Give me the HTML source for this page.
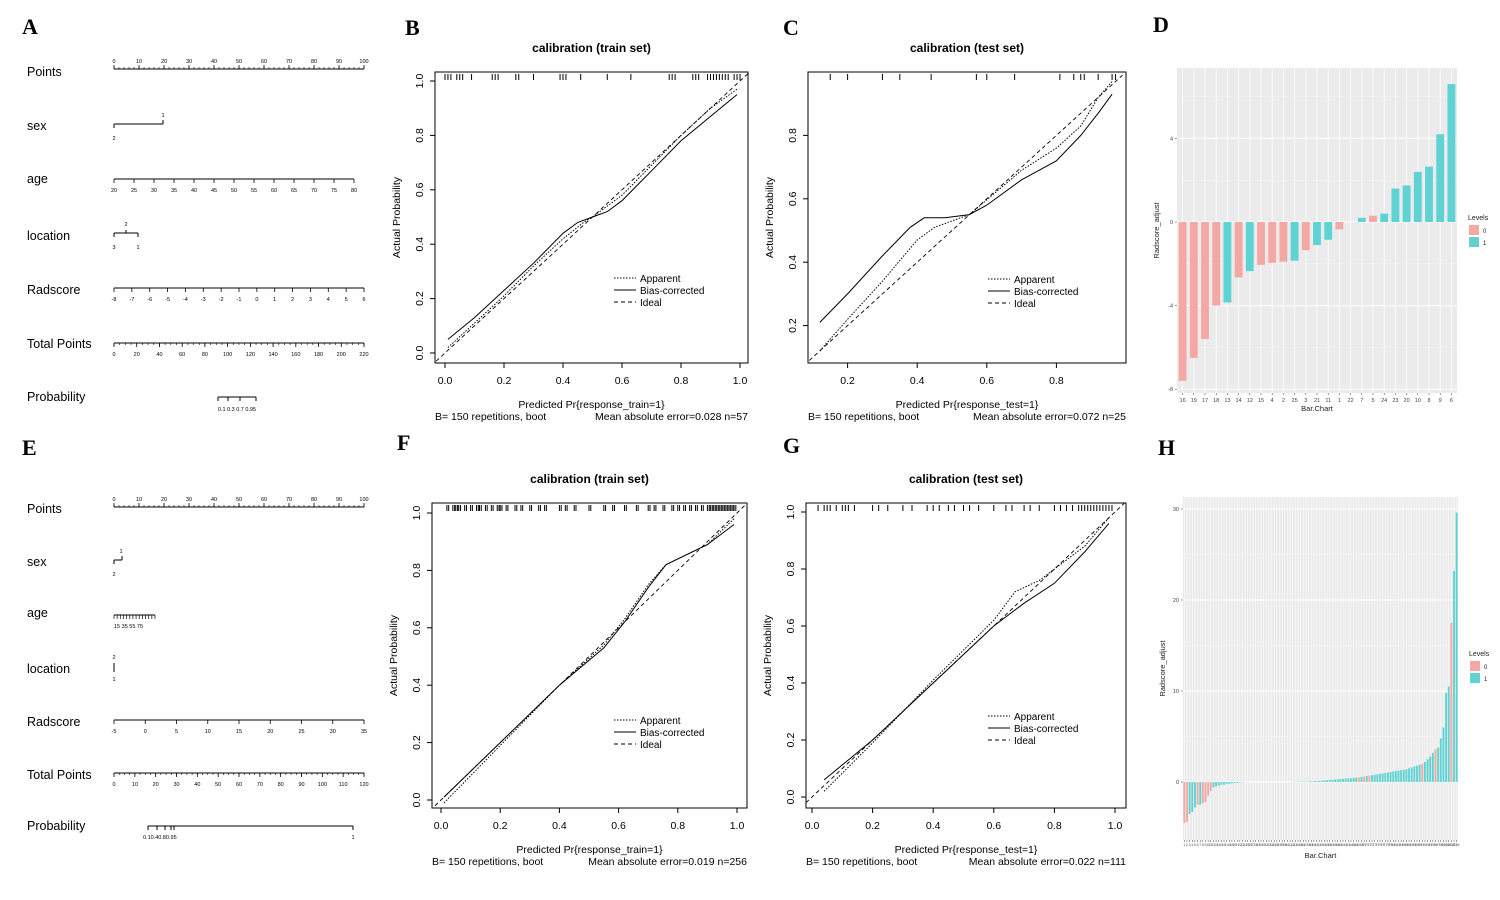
<!DOCTYPE html>
<html><head><meta charset="utf-8"><style>
body{margin:0;background:#fff}
svg{display:block;font-family:"Liberation Sans",Arial,sans-serif}
</style></head><body>
<svg id="fig" width="1500" height="900" viewBox="0 0 1500 900" xmlns="http://www.w3.org/2000/svg">
<rect width="1500" height="900" fill="#fff"/>
<g font-family="Liberation Serif,serif" font-weight="bold" font-size="22" fill="#000">
<text x="22" y="34">A</text>
<text x="405" y="35">B</text>
<text x="783" y="35">C</text>
<text x="1153" y="32">D</text>
<text x="22" y="455">E</text>
<text x="397" y="450">F</text>
<text x="783" y="453">G</text>
<text x="1158" y="455">H</text>
</g>
</svg>
<script>
// ---- data: bar chart D ----
const dCats=["16","19","17","18","13","14","12","15","4","2","25","3","21","11","1","22","7","5","24","23","20","10","8","9","6"];
const dVals=[-7.6,-6.5,-5.6,-4.0,-3.85,-2.65,-2.35,-2.05,-1.95,-1.9,-1.85,-1.35,-1.1,-0.85,-0.35,0,0.2,0.3,0.4,1.6,1.75,2.4,2.65,4.2,6.6];
const dLevels=[0,0,0,0,1,0,1,0,0,0,1,0,1,1,0,0,1,0,1,1,1,1,1,1,1];
// ---- data: bar chart H ----
const hVals=[-4.5,-4.4,-3.5,-3.3,-2.8,-2.5,-2.5,-2.3,-2.2,-1.5,-1.0,-0.6,-0.5,-0.4,-0.3,-0.3,-0.2,-0.2,-0.15,-0.1,-0.1,-0.05,-0.05,
0,0,0,0,0,0,0,0,0,0,0,0,0,0,0,0,0,0,0.02,0.02,0.03,0.03,
0.05,0.05,0.05,0.08,0.1,0.1,0.12,0.15,0.18,0.2,0.22,0.25,0.28,0.3,0.32,0.35,0.38,0.4,0.42,0.45,0.48,0.5,0.55,0.6,0.65,0.7,0.75,0.8,0.85,0.9,0.95,1.0,1.05,1.1,1.15,1.2,1.25,1.3,1.35,1.4,1.5,1.6,1.7,1.8,1.9,2.0,2.2,2.5,2.8,3.2,3.6,3.8,4.8,6.0,9.8,10.5,17.5,23.2,29.6];
const hPink=[0,1,5,7,8,9,10,66,68,70,90,95,101];
const hLevels=hVals.map((v,i)=>hPink.includes(i)?0:1);
// ---- data: calibration curves ----
const bApp=[[0.01,0.02],[0.1,0.11],[0.2,0.21],[0.3,0.32],[0.4,0.42],[0.47,0.48],[0.5,0.5],[0.6,0.58],[0.7,0.69],[0.8,0.8],[0.9,0.9],[0.99,0.97]];
const bBias=[[0.01,0.05],[0.1,0.13],[0.2,0.23],[0.3,0.33],[0.4,0.44],[0.45,0.48],[0.5,0.5],[0.55,0.52],[0.6,0.56],[0.7,0.67],[0.8,0.78],[0.9,0.87],[0.99,0.95]];
const bRug=[0.0,0.01,0.02,0.04,0.05,0.06,0.09,0.16,0.17,0.18,0.24,0.25,0.3,0.39,0.4,0.41,0.46,0.55,0.63,0.76,0.77,0.78,0.84,0.85,0.86,0.89,0.9,0.91,0.92,0.93,0.94,0.95,0.96,0.98,0.99,1.0];
const cApp=[[0.12,0.12],[0.2,0.22],[0.3,0.34],[0.4,0.47],[0.45,0.51],[0.55,0.55],[0.7,0.69],[0.8,0.76],[0.87,0.83],[0.92,0.92],[0.96,0.97]];
const cBias=[[0.12,0.21],[0.2,0.3],[0.3,0.42],[0.38,0.51],[0.42,0.54],[0.48,0.54],[0.55,0.55],[0.6,0.58],[0.7,0.66],[0.8,0.72],[0.87,0.8],[0.92,0.87],[0.96,0.93]];
const cRug=[0.15,0.2,0.3,0.35,0.44,0.57,0.6,0.68,0.81,0.85,0.87,0.88,0.92,0.96,0.97];
const fApp=[[0.01,-0.01],[0.2,0.19],[0.4,0.4],[0.55,0.54],[0.62,0.63],[0.7,0.75],[0.76,0.82],[0.8,0.84],[0.9,0.89],[0.99,0.98]];
const fBias=[[0.01,0.01],[0.2,0.2],[0.4,0.4],[0.55,0.53],[0.62,0.62],[0.7,0.74],[0.76,0.82],[0.8,0.84],[0.9,0.89],[0.99,0.96]];
const fRugBase=[0.02,0.04,0.05,0.06,0.08,0.1,0.12,0.13,0.15,0.17,0.19,0.2,0.22,0.25,0.27,0.3,0.33,0.35,0.4,0.42,0.45,0.5,0.55,0.58,0.62,0.66,0.7,0.72,0.75,0.78,0.8,0.82,0.84,0.86,0.88,0.9,0.91,0.92,0.93,0.94,0.95,0.96,0.97,0.98,0.99];
const fRug=fRugBase.concat(fRugBase.map(v=>v+0.006));
const gApp=[[0.04,0.02],[0.2,0.19],[0.4,0.41],[0.6,0.62],[0.67,0.72],[0.75,0.76],[0.9,0.88],[0.98,0.98]];
const gBias=[[0.04,0.06],[0.2,0.2],[0.4,0.4],[0.6,0.6],[0.7,0.68],[0.8,0.75],[0.9,0.86],[0.98,0.96]];
const gRug=[0.02,0.04,0.05,0.06,0.08,0.1,0.11,0.12,0.14,0.2,0.22,0.25,0.3,0.33,0.38,0.4,0.42,0.45,0.47,0.5,0.52,0.55,0.6,0.64,0.66,0.7,0.72,0.75,0.8,0.82,0.84,0.86,0.88,0.89,0.9,0.91,0.92,0.93,0.94,0.95,0.96,0.97,0.98,0.99];

const NS="http://www.w3.org/2000/svg";
const svg=document.getElementById('fig');
function el(tag,attrs,parent,txt){const e=document.createElementNS(NS,tag);for(const k in attrs)e.setAttribute(k,attrs[k]);if(txt!==undefined)e.textContent=txt;(parent||svg).appendChild(e);return e;}
function grp(name){const g=el('g',{});return g;}

function calib(o){
  const g=grp(o.name);
  const sx=v=>o.x0+(v-0)*(o.x1-o.x0), sy=v=>o.y0-(v)*(o.y0-o.y1);
  el('rect',{x:o.fx0,y:o.fy0,width:o.fx1-o.fx0,height:o.fy1-o.fy0,fill:'none',stroke:'#000','stroke-width':1},g);
  const t=el('text',{x:(o.fx0+o.fx1)/2,y:o.fy0-20,'text-anchor':'middle','font-size':12,'font-weight':'bold'},g,o.title);
  
  o.xt.forEach(v=>{el('line',{x1:sx(v),x2:sx(v),y1:o.fy1,y2:o.fy1+5,stroke:'#000'},g);el('text',{x:sx(v),y:o.fy1+21,'text-anchor':'middle','font-size':10.5},g,v.toFixed(1));});
  o.yt.forEach(v=>{el('line',{x1:o.fx0,x2:o.fx0-5,y1:sy(v),y2:sy(v),stroke:'#000'},g);el('text',{x:o.fx0-12,y:sy(v),'text-anchor':'middle','font-size':10.5,transform:`rotate(-90 ${o.fx0-12} ${sy(v)})`},g,v.toFixed(1));});
  el('text',{x:o.fx0-35,y:(o.fy0+o.fy1)/2,'text-anchor':'middle','font-size':10.5,transform:`rotate(-90 ${o.fx0-35} ${(o.fy0+o.fy1)/2})`},g,'Actual Probability');
  el('text',{x:(o.fx0+o.fx1)/2,y:o.fy1+45,'text-anchor':'middle','font-size':10.5},g,o.xlab);
  el('text',{x:o.fx0,y:o.fy1+57,'font-size':10.5},g,'B= 150 repetitions, boot');
  el('text',{x:o.fx1,y:o.fy1+57,'text-anchor':'end','font-size':10.5},g,o.mae);
  el('line',{x1:sx(o.id0),y1:sy(o.id0),x2:sx(o.id1),y2:sy(o.id1),stroke:'#000','stroke-dasharray':'4,3','stroke-width':0.9},g);
  const pts=a=>a.map(p=>sx(p[0]).toFixed(1)+','+sy(p[1]).toFixed(1)).join(' ');
  const pa=el('polyline',{points:pts(o.app),fill:'none',stroke:'#000','stroke-dasharray':'1.5,1.5','stroke-width':1},g);
  
  const pb=el('polyline',{points:pts(o.bias),fill:'none',stroke:'#000','stroke-width':1},g);
  
  o.rug.forEach(v=>{el('line',{x1:sx(v),x2:sx(v),y1:o.fy0+2,y2:o.fy0+8,stroke:'#000','stroke-width':1},g);});
  const L=grp('legend');g.appendChild(L);
  const lab=['Apparent','Bias-corrected','Ideal'],da=['1.5,1.5','none','4,3'];
  lab.forEach((s,i)=>{const y=o.ly+i*12;el('line',{x1:o.lx,x2:o.lx+22,y1:y-4,y2:y-4,stroke:'#000','stroke-dasharray':da[i]},L);
    const tt=el('text',{x:o.lx+26,y:y,'font-size':10},L,s);});
}
calib({name:'calibration-train-b',fx0:435,fx1:748,fy0:72,fy1:363,x0:445,x1:740,y0:353,y1:81,xt:[0,0.2,0.4,0.6,0.8,1],yt:[0,0.2,0.4,0.6,0.8,1],
 title:'calibration (train set)',xlab:'Predicted Pr{response_train=1}',mae:'Mean absolute error=0.028 n=57',app:bApp,bias:bBias,rug:bRug,id0:-0.03,id1:1.03,lx:614,ly:282});
calib({name:'calibration-test-c',fx0:808,fx1:1126,fy0:72,fy1:363,x0:778,x1:1126,y0:389,y1:72,xt:[0.2,0.4,0.6,0.8],yt:[0.2,0.4,0.6,0.8],
 title:'calibration (test set)',xlab:'Predicted Pr{response_test=1}',mae:'Mean absolute error=0.072 n=25',app:cApp,bias:cBias,rug:cRug,id0:0.09,id1:0.99,lx:988,ly:283});
calib({name:'calibration-train-f',fx0:432,fx1:747,fy0:503,fy1:808,x0:441,x1:737,y0:800,y1:513,xt:[0,0.2,0.4,0.6,0.8,1],yt:[0,0.2,0.4,0.6,0.8,1],
 title:'calibration (train set)',xlab:'Predicted Pr{response_train=1}',mae:'Mean absolute error=0.019 n=256',app:fApp,bias:fBias,rug:fRug,id0:-0.02,id1:1.03,lx:614,ly:724});
calib({name:'calibration-test-g',fx0:806,fx1:1126,fy0:503,fy1:808,x0:812,x1:1115,y0:797,y1:512,xt:[0,0.2,0.4,0.6,0.8,1],yt:[0,0.2,0.4,0.6,0.8,1],
 title:'calibration (test set)',xlab:'Predicted Pr{response_test=1}',mae:'Mean absolute error=0.022 n=111',app:gApp,bias:gBias,rug:gRug,id0:-0.02,id1:1.03,lx:988,ly:720});

function bars(o){
  const g=grp(o.name);
  el('rect',{x:o.px0,y:o.py0,width:o.px1-o.px0,height:o.py1-o.py0,fill:'#ebebeb'},g);
  const sy=v=>o.zero-v*o.k;
  o.grid.forEach(v=>el('line',{x1:o.px0,x2:o.px1,y1:sy(v),y2:sy(v),stroke:'#fff','stroke-width':1},g));
  o.minor.forEach(v=>el('line',{x1:o.px0,x2:o.px1,y1:sy(v),y2:sy(v),stroke:'#f5f5f5','stroke-width':0.5},g));
  const n=o.vals.length, step=(o.px1-o.px0)/n;
  for(let i=0;i<n;i++){const cx=o.px0+step*(i+0.5);el('line',{x1:cx,x2:cx,y1:o.py0,y2:o.py1,stroke:'#fff','stroke-width':o.gw},g);}
  for(let i=0;i<n;i++){const v=o.vals[i],cx=o.px0+step*(i+0.5),w=step*0.7;
    const r=el('rect',{x:cx-w/2,y:Math.min(sy(v),sy(0)),width:w,height:Math.max(Math.abs(sy(v)-sy(0)),0.01),fill:o.lev[i]?'#5fd3d3':'#f4a8a3'},g);
    
    el('line',{x1:cx,x2:cx,y1:o.py1,y2:o.py1+2,stroke:'#333','stroke-width':0.5},g);
    if(o.cats) el('text',{x:cx,y:o.py1+9,'text-anchor':'middle','font-size':o.cfs,fill:'#444'},g,o.cats[i]);
    else el('text',{x:cx,y:o.py1+6,'text-anchor':'middle','font-size':3.5,fill:'#555'},g,String(i+1));
  }
  o.yt.forEach(v=>{el('line',{x1:o.px0-2,x2:o.px0,y1:sy(v),y2:sy(v),stroke:'#333','stroke-width':0.5},g);el('text',{x:o.px0-4,y:sy(v)+2,'text-anchor':'end','font-size':5.5,fill:'#444'},g,String(v));});
  el('text',{x:o.px0-18,y:(o.py0+o.py1)/2,'text-anchor':'middle','font-size':7.5,fill:'#222',transform:`rotate(-90 ${o.px0-18} ${(o.py0+o.py1)/2})`},g,'Radscore_adjust');
  el('text',{x:(o.px0+o.px1)/2,y:o.py1+18,'text-anchor':'middle','font-size':7.5,fill:'#222'},g,'Bar.Chart');
  const L=grp('legend');g.appendChild(L);
  el('text',{x:o.px1+11,y:o.ly,'font-size':7,fill:'#222'},L,'Levels');
  ['#f4a8a3','#5fd3d3'].forEach((c,i)=>{el('rect',{x:o.px1+12,y:o.ly+5+i*12,width:10,height:10,fill:c},L);
    const t=el('text',{x:o.px1+26,y:o.ly+13+i*12,'font-size':6,fill:'#222'},L,String(i));});
}
bars({name:'bar-chart-d',px0:1177,px1:1457,py0:68,py1:393,zero:222,k:20.9,vals:dVals,lev:dLevels,cats:dCats,cfs:5.5,gw:0.8,
 grid:[-8,-4,0,4],minor:[-6,-2,2,6],yt:[-8,-4,0,4],ly:220});
bars({name:'bar-chart-h',px0:1183,px1:1458,py0:497,py1:840,zero:782,k:9.1,vals:hVals,lev:hLevels,cats:null,gw:0.5,
 grid:[0,10,20,30],minor:[5,15,25],yt:[0,10,20,30],ly:656});

function axis(g,y,x0,x1,vals,labels,opt){
  opt=opt||{};
  el('line',{x1:x0,x2:x1,y1:y,y2:y,stroke:'#000','stroke-width':1},g);
  const sx=v=>x0+(v-vals[0])/(vals[vals.length-1]-vals[0])*(x1-x0);
  if(opt.minor){for(let v=vals[0];v<=vals[vals.length-1]+1e-9;v+=opt.minor){el('line',{x1:sx(v),x2:sx(v),y1:y,y2:y+(opt.up?-2:2),stroke:'#000','stroke-width':0.6},g);}}
  vals.forEach((v,i)=>{el('line',{x1:sx(v),x2:sx(v),y1:y,y2:y+(opt.up?-4:4),stroke:'#000','stroke-width':0.8},g);
    if(labels[i]!=='') el('text',{x:sx(v),y:opt.up?y-6:y+13,'text-anchor':'middle','font-size':5.5},g,labels[i]);});
}
function rowLabel(g,y,s){const t=el('text',{x:27,y:y,'font-size':12.5},g,s);}
function rng(a,b,s){const r=[];for(let v=a;v<=b+1e-9;v+=s)r.push(Math.round(v*100)/100);return r;}
(function(){const g=grp('nomogram-a');
 rowLabel(g,76,'Points');const pv=rng(0,100,10);axis(g,69,114,364,pv,pv.map(String),{up:true,minor:2});
 rowLabel(g,130,'sex');el('line',{x1:114,x2:163,y1:124,y2:124,stroke:'#000'},g);el('line',{x1:114,x2:114,y1:124,y2:128,stroke:'#000'},g);el('line',{x1:163,x2:163,y1:124,y2:120,stroke:'#000'},g);
 el('text',{x:163,y:117,'text-anchor':'middle','font-size':5.5},g,'1');el('text',{x:114,y:140,'text-anchor':'middle','font-size':5.5},g,'2');
 rowLabel(g,183,'age');const av=rng(20,80,5);axis(g,179,114,354,av,av.map(String));
 rowLabel(g,240,'location');el('line',{x1:114,x2:138,y1:233,y2:233,stroke:'#000'},g);el('line',{x1:114,x2:114,y1:233,y2:237,stroke:'#000'},g);el('line',{x1:138,x2:138,y1:233,y2:237,stroke:'#000'},g);el('line',{x1:126,x2:126,y1:233,y2:230,stroke:'#000'},g);
 el('text',{x:126,y:226,'text-anchor':'middle','font-size':5.5},g,'2');el('text',{x:114,y:249,'text-anchor':'middle','font-size':5.5},g,'3');el('text',{x:138,y:249,'text-anchor':'middle','font-size':5.5},g,'1');
 rowLabel(g,294,'Radscore');const rv=rng(-8,6,1);axis(g,288,114,364,rv,rv.map(String));
 rowLabel(g,348,'Total Points');const tv=rng(0,220,20);axis(g,343,114,364,tv,tv.map(String),{minor:5});
 rowLabel(g,401,'Probability');el('line',{x1:218,x2:256,y1:397,y2:397,stroke:'#000'},g);
 [218,228,240,256].forEach(x=>{el('line',{x1:x,x2:x,y1:397,y2:401,stroke:'#000'},g);});
 el('text',{x:237,y:411,'text-anchor':'middle','font-size':5.5},g,'0.1 0.3  0.7   0.95');
})();
(function(){const g=grp('nomogram-e');
 rowLabel(g,513,'Points');const pv=rng(0,100,10);axis(g,507,114,364,pv,pv.map(String),{up:true,minor:2});
 rowLabel(g,566,'sex');el('line',{x1:114,x2:122,y1:560,y2:560,stroke:'#000'},g);el('line',{x1:114,x2:114,y1:560,y2:564,stroke:'#000'},g);el('line',{x1:122,x2:122,y1:560,y2:556,stroke:'#000'},g);
 el('text',{x:121,y:553,'text-anchor':'middle','font-size':5.5},g,'1');el('text',{x:114,y:576,'text-anchor':'middle','font-size':5.5},g,'2');
 rowLabel(g,617,'age');el('line',{x1:114,x2:155,y1:615,y2:615,stroke:'#000'},g);
 for(let i=0;i<=13;i++){const x=114+i*41/13;el('line',{x1:x,x2:x,y1:615,y2:619,stroke:'#000','stroke-width':0.7},g);}
 el('text',{x:114,y:628,'font-size':5.5},g,'15  35  55  75');
 rowLabel(g,673,'location');el('line',{x1:114,x2:114,y1:663,y2:672,stroke:'#000'},g);
 el('text',{x:114,y:659,'text-anchor':'middle','font-size':5.5},g,'2');el('text',{x:114,y:681,'text-anchor':'middle','font-size':5.5},g,'1');
 rowLabel(g,726,'Radscore');const rv=rng(-5,35,5);axis(g,720,114,364,rv,rv.map(String));
 rowLabel(g,779,'Total Points');const tv=rng(0,120,10);axis(g,773,114,364,tv,tv.map(String),{minor:2.5});
 rowLabel(g,830,'Probability');el('line',{x1:148,x2:353,y1:826,y2:826,stroke:'#000'},g);
 [148,157,165,171,174,353].forEach(x=>el('line',{x1:x,x2:x,y1:826,y2:830,stroke:'#000'},g));
 el('text',{x:143,y:839,'font-size':5.5},g,'0.10.40.80.95');el('text',{x:353,y:839,'text-anchor':'middle','font-size':5.5},g,'1');
})();
</script>
</body></html>
